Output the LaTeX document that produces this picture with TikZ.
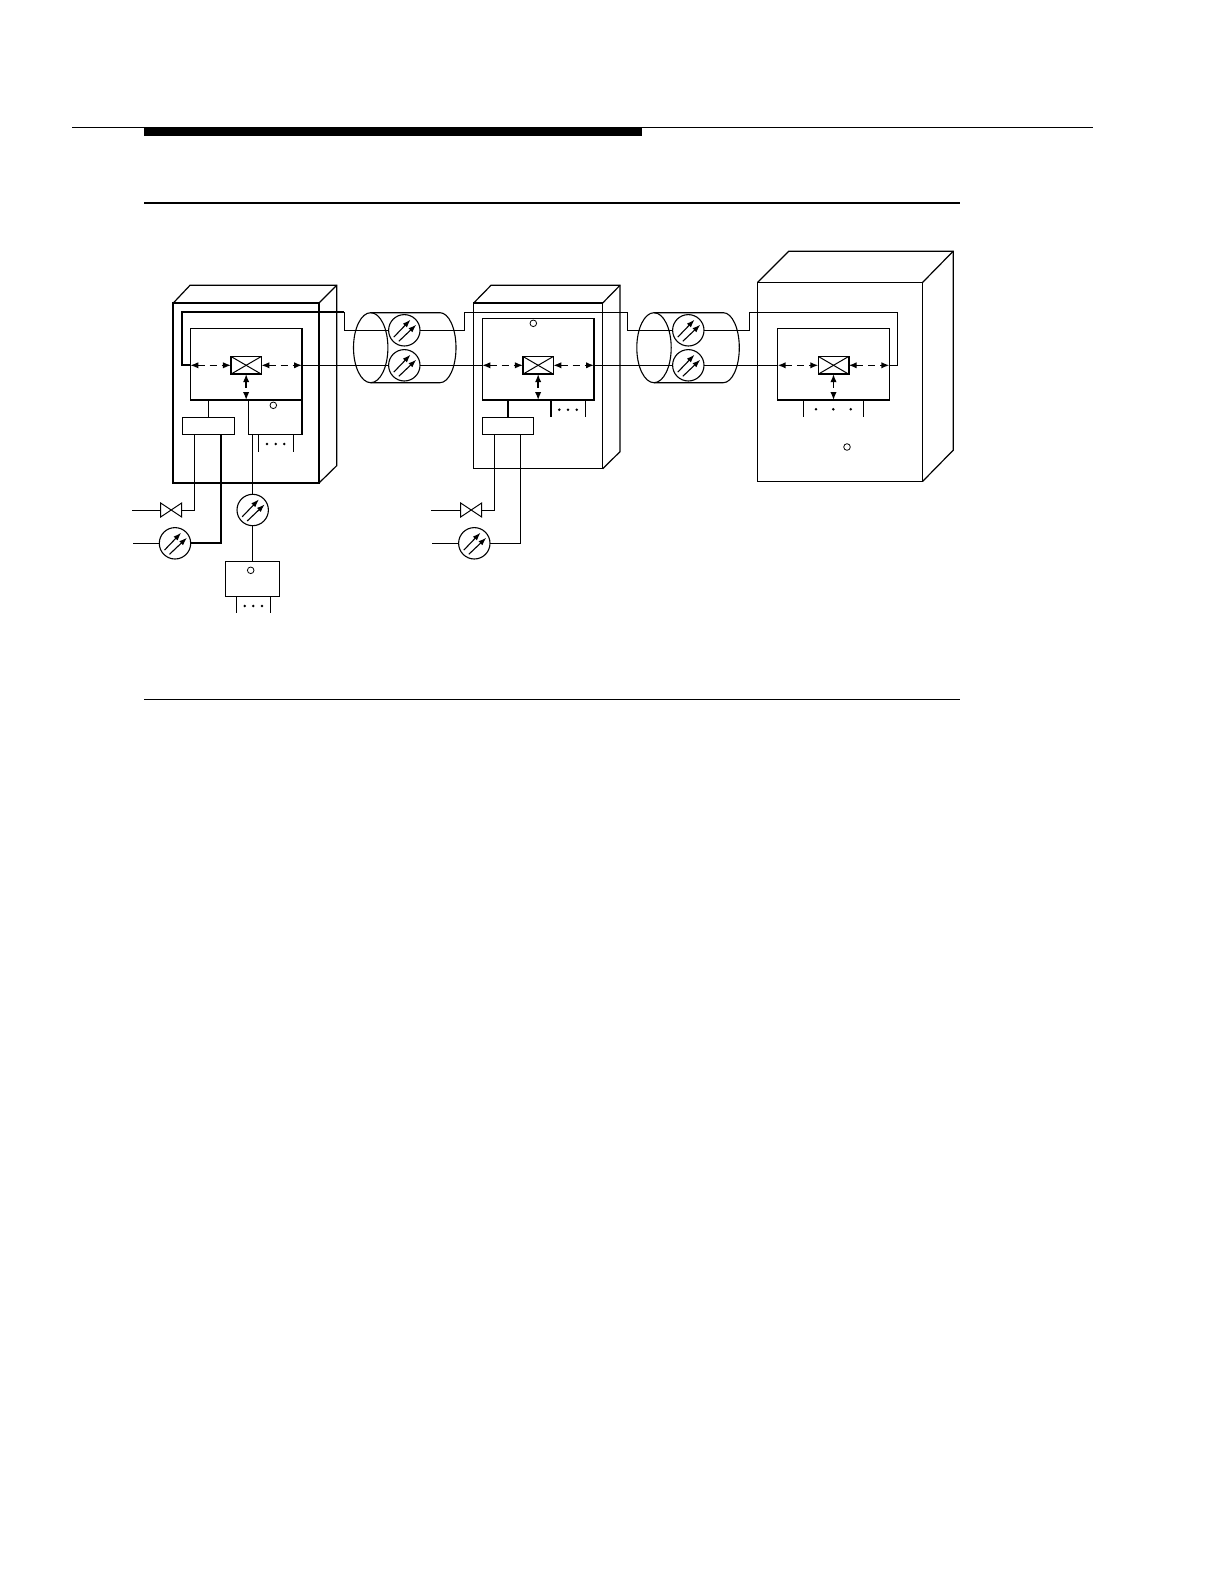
\documentclass[tikz,border=0pt]{standalone}
\usepackage{tikz}
\usetikzlibrary{arrows.meta,positioning,calc,shapes.geometric}
\tikzset{
  thinln/.style={line width=0.5pt},
  edgeln/.style={line width=0.6pt},
  heavy/.style={line width=0.85pt},
  plain/.style={draw,line width=0.55pt,inner sep=0pt,outer sep=0pt},
  cabinet/.style={plain},
  ctlbox/.style={plain,line width=0.7pt,minimum width=55.85pt,minimum height=35.85pt},
  swbox/.style={plain,line width=0.8pt,minimum width=15.2pt,minimum height=8.85pt},
  muxbox/.style={plain,minimum height=8.7pt},
  amp/.style={plain,circle,minimum size=15.7pt},
  lamp/.style={plain,circle,line width=0.4pt,minimum size=3.3pt},
  valve/.style={inner sep=0pt,outer sep=0pt,minimum width=10.5pt,minimum height=7pt},
  duct/.style={plain,ellipse,minimum width=17.2pt,minimum height=35pt},
  dotmark/.style={circle,fill,inner sep=0pt,minimum size=1.4pt},
  dlink/.style={{Latex[length=4pt,width=3.2pt]}-{Latex[length=4pt,width=3.2pt]},line width=0.7pt,dash pattern=on 3.5pt off 2.5pt},
  beam/.style={-{Latex[length=4pt,width=2.8pt]},line width=0.55pt}
}
\begin{document}
\begin{tikzpicture}[x=0.5pt,y=-0.5pt]
\useasboundingbox (0,0) rectangle (1224,1584);
% page rules
\coordinate (ra) at (72,127.7);
\coordinate (rb) at (1092.7,127.7);
\node[fill,inner sep=0pt,minimum width=249.2pt,minimum height=4.3pt] (bar) at (393.2,131.7) {};
\draw[thinln] (ra) -- (rb);
\coordinate (rc) at (144,203);
\coordinate (rd) at (959.5,203);
\coordinate (re) at (144,699);
\coordinate (rf) at (959.5,699);
\draw[line width=1pt] (rc) -- (rd);
\draw[thinln] (re) -- (rf);
% cabinets
\node[cabinet,line width=0.9pt,minimum width=72.85pt,minimum height=90pt] (caba) at (246.15,393) {};
\node[cabinet,line width=0.65pt,minimum width=64.5pt,minimum height=82.85pt] (cabb) at (538.2,385.85) {};
\node[cabinet,minimum width=82.5pt,minimum height=99.5pt] (cabc) at (840,382) {};
\draw[edgeln] (caba.north west) -- ++(16.7,-17.7) -- ++(146.7,0) -- ++(0,180.4) -- (caba.south east);
\draw[edgeln] (caba.north east) -- ++(17.7,-17.7);
\draw[edgeln] (cabb.north west) -- ++(17.3,-17.7) -- ++(129,0) -- ++(0,166.4) -- (cabb.south east);
\draw[edgeln] (cabb.north east) -- ++(17.3,-17.7);
\draw[edgeln] (cabc.north west) -- ++(31.3,-31.3) -- ++(164.4,0) -- ++(0,199) -- (cabc.south east);
\draw[edgeln] (cabc.north east) -- ++(30.7,-31.3);
% control units
\node[ctlbox] (ctla) at (246.15,364.15) {};
\node[ctlbox,minimum height=40.85pt] (ctlb) at (538.15,359.15) {};
\node[ctlbox] (ctlc) at (833.5,364.15) {};
\node[swbox] (swa) at (246.15,365.3) {};
\node[swbox] (swb) at (538.15,365.3) {};
\node[swbox] (swc) at (833.5,365.3) {};
\foreach \sw/\ctl in {swa/ctla,swb/ctlb,swc/ctlc}{
  \draw[thinln] (\sw.north west) -- (\sw.south east);
  \draw[thinln] (\sw.north east) -- (\sw.south west);
  \draw[dlink] (\ctl.west |- \sw) -- (\sw.west);
  \draw[dlink] (\sw.east) -- (\ctl.east |- \sw);
  \draw[dlink] (\sw.south) -- (\sw.south |- \ctl.south);
}
% fibre ducts
\node[duct] (dcta) at (370.7,347.7) {};
\node[duct] (dctb) at (654,347.7) {};
\draw[plain] (dcta.north) -- ++(69.3,0) arc[start angle=90,end angle=-90,x radius=8pt,y radius=17.5pt] -- (dcta.south);
\draw[plain] (dctb.north) -- ++(69.3,0) arc[start angle=90,end angle=-90,x radius=8pt,y radius=17.5pt] -- (dctb.south);
% amplifiers
\node[amp] (ampa) at (404.3,330.3) {};
\node[amp] (ampb) at (404.3,365.3) {};
\node[amp] (ampc) at (688.3,330.3) {};
\node[amp] (ampd) at (688.3,365.3) {};
\node[amp] (ampe) at (175,543.3) {};
\node[amp] (ampf) at (252.7,510) {};
\node[amp] (ampg) at (474.3,543.3) {};
\foreach \n in {ampa,ampb,ampc,ampd,ampe,ampf,ampg}{
  \draw[beam] ($(\n)+(-10.5,6.8)$) -- ($(\n)+(6.2,-10.6)$);
  \draw[beam] ($(\n)+(-5.5,11)$) -- ($(\n)+(12,-5.6)$);
}
% fibre runs
\draw[heavy] (ctla.west |- swa) -- ++(-8.6,0) |- (344.3,312);
\draw[thinln] (344.3,312) |- (ampa.west);
\draw[thinln] (ampa.east) -- ++(44,0) -- ++(0,-18.3) -- ++(163.3,0) |- (ampc.west);
\draw[thinln] (ampc.east) -- ++(45,0) -- ++(0,-18.3) -| (897.7,365.3) -- (ctlc.east |- swc);
\draw[thinln] (ctla.east |- swa) -- (ampb.west);
\draw[thinln] (ampb.east) -- (ctlb.west |- swb);
\draw[thinln] (ctlb.east |- swb) -- (ampd.west);
\draw[thinln] (ampd.east) -- (ctlc.west |- swc);
% shelf under first unit
\node[muxbox,minimum width=26pt] (muxa) at (208.3,426) {};
\node[muxbox,minimum width=25.5pt] (muxb) at (507.8,426) {};
\node[plain,minimum width=26.85pt,minimum height=17.35pt] (shfa) at (275.15,417.35) {};
\node[plain,line width=0.7pt,minimum width=26.8pt,minimum height=17.5pt] (shfb) at (252.5,578.8) {};
\draw[thinln] (muxa.north |- ctla.south) -- (muxa.north);
\draw[heavy] (muxb.north |- ctlb.south) -- (muxb.north);
% side feeds
\node[valve] (vlva) at (171.2,510) {};
\node[valve] (vlvb) at (471.2,510) {};
\foreach \v in {vlva,vlvb}
  \draw[thinln] (\v.north west) -- (\v.south east) -- (\v.north east) -- (\v.south west) -- cycle;
\coordinate (ina) at (132.3,510);
\coordinate (inb) at (133.3,543.3);
\coordinate (inc) at (431,510);
\coordinate (ind) at (432,543.3);
\draw[thinln] (ina) -- (vlva.west);
\draw[thinln] (inb) -- (ampe.west);
\draw[thinln] (inc) -- (vlvb.west);
\draw[thinln] (ind) -- (ampg.west);
\draw[thinln] (vlva.east) -- (194.3,510) -- (194.3,434.7);
\draw[heavy] (ampe.east) -- (221,543.3) -- (221,434.7);
\draw[thinln] (vlvb.east) -- (494.3,510) -- (494.3,434.7);
\draw[thinln] (ampg.east) -- (520.3,543.3) -- (520.3,434.7);
\draw[thinln] (252.7,434.7) -- (ampf.north);
\draw[thinln] (ampf.south) -- (ampf.south |- shfb.north);
% port ticks
\draw[thinln] (258.3,434.7) -- ++(0,17);
\draw[thinln] (293,434.7) -- ++(0,17);
\draw[thinln] (236.3,596.3) -- ++(0,17);
\draw[thinln] (270.7,596.3) -- ++(0,17);
\draw[heavy] (551,400) -- ++(0,16.7);
\draw[thinln] (585.3,400) -- ++(0,16.7);
\draw[thinln] (803.3,400) -- ++(0,16.7);
\draw[thinln] (863.3,400) -- ++(0,16.7);
\foreach \x/\y in {267/444,275.7/444,284.3/444,244.7/606,253.3/606,262/606,559.3/409.7,568/409.7,576.7/409.7,816/409.3,833.3/409.3,850.7/409.3}
  \node[dotmark] at (\x,\y) {};
% lamps
\node[lamp] (lpa) at (273.3,405.3) {};
\node[lamp] (lpb) at (533.3,323.3) {};
\node[lamp] (lpc) at (847,447) {};
\node[lamp] (lpd) at (250.7,570.3) {};
\end{tikzpicture}
\end{document}
